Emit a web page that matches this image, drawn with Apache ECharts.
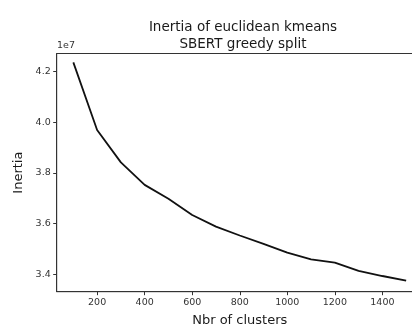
<!DOCTYPE html>
<html>
<head>
<meta charset="utf-8">
<script src="https://cdn.jsdelivr.net/npm/echarts@6/dist/echarts.min.js"></script>
<style>html,body{margin:0;padding:0;background:#fff;}#c{width:412px;height:327px;}</style>
</head>
<body>
<div id="c"></div>
<script>
const clusters = [100, 200, 300, 400, 500, 600, 700, 800, 900, 1000, 1100, 1200, 1300, 1400, 1500];
const inertia = [42370000, 39700000, 38420000, 37530000, 36980000, 36340000, 35880000, 35530000, 35200000, 34850000, 34590000, 34460000, 34130000, 33930000, 33750000];
const xTicks = [200, 400, 600, 800, 1000, 1200, 1400];
const yTicks = [34000000, 36000000, 38000000, 40000000, 42000000];
const titleLines = ['Inertia of euclidean kmeans', 'SBERT greedy split'];

const font = 'DejaVu Sans';
const chart = echarts.init(document.getElementById('c'), null, {renderer: 'canvas'});
chart.setOption({
  animation: false,
  backgroundColor: '#fff',
  title: {
    text: titleLines.join('\n'),
    left: 238, top: 14, textAlign: 'center',
    textStyle: {fontFamily: font, fontSize: 13.5, fontWeight: 'normal', color: '#1a1a1a', lineHeight: 17}
  },
  grid: {left: 56.7, top: 53.5, width: 366.1, bottom: 35.3, outerBoundsMode: 'none', containLabel: false,
    show: true, borderColor: '#333', borderWidth: 1, backgroundColor: 'transparent'},
  xAxis: {
    type: 'value', min: 30, max: 1570,
    name: 'Nbr of clusters', nameLocation: 'middle', nameGap: 22,
    nameTextStyle: {fontFamily: font, fontSize: 13, color: '#1a1a1a'},
    axisLine: {show: true, lineStyle: {color: '#333', width: 1}},
    axisTick: {show: true, inside: false, length: 3.5, lineStyle: {color: '#333'}, customValues: xTicks},
    axisLabel: {fontFamily: font, fontSize: 9.5, color: '#333', margin: 6, customValues: xTicks,
      formatter: v => String(v)},
    splitLine: {show: false}
  },
  yAxis: {
    type: 'value', min: 33310000, max: 42720000,
    name: 'Inertia', nameLocation: 'middle', nameGap: 31,
    nameTextStyle: {fontFamily: font, fontSize: 13, color: '#1a1a1a'},
    axisLine: {show: true, lineStyle: {color: '#333', width: 1}},
    axisTick: {show: true, inside: false, length: 3.5, lineStyle: {color: '#333'}, customValues: yTicks},
    axisLabel: {fontFamily: font, fontSize: 9.5, color: '#333', margin: 6, customValues: yTicks,
      formatter: v => (v / 1e7).toFixed(1)},
    splitLine: {show: false}
  },
  graphic: [{
    type: 'text', left: 57, top: 41,
    style: {text: '1e7', font: '9.5px "DejaVu Sans"', fill: '#333'}
  }],
  series: [{
    type: 'line',
    data: clusters.map((c, i) => [c, inertia[i]]),
    showSymbol: false,
    lineStyle: {color: '#111', width: 1.8},
    clip: false
  }]
});
</script>
</body>
</html>
